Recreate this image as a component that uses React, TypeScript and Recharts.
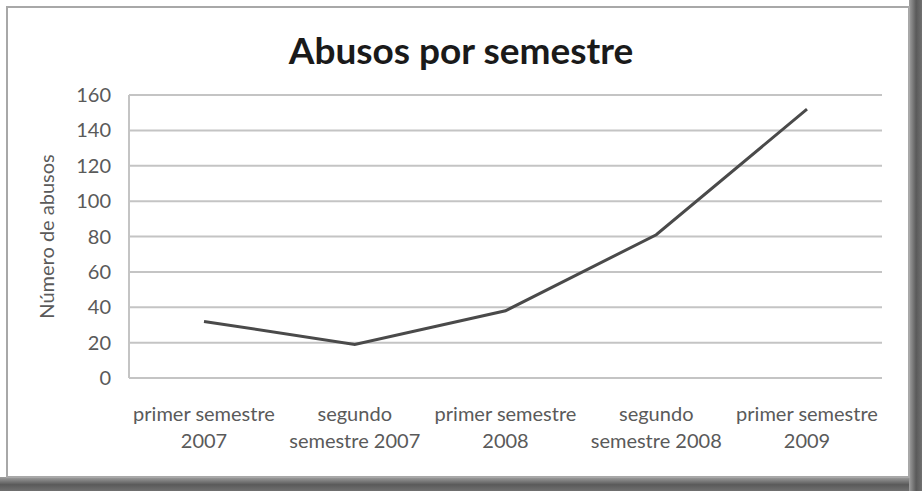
import { CartesianGrid, Line, LineChart, XAxis, YAxis } from 'recharts';

const categories = [
  'primer semestre 2007',
  'segundo semestre 2007',
  'primer semestre 2008',
  'segundo semestre 2008',
  'primer semestre 2009',
];
const categoryLines = [
  ['primer semestre', '2007'],
  ['segundo', 'semestre 2007'],
  ['primer semestre', '2008'],
  ['segundo', 'semestre 2008'],
  ['primer semestre', '2009'],
];
const abusos = [32, 19, 38, 81, 152];
const yTicks = [0, 20, 40, 60, 80, 100, 120, 140, 160];

const data = categories.map((c, i) => ({ name: c, abusos: abusos[i] }));

const TICK_COLOR = '#5a5a5a';
const GRID_COLOR = '#c4c4c4';
const FONT = 'Lato, "Open Sans", sans-serif';

function XTick(props: any) {
  const { x, y, payload } = props;
  const lines = categoryLines[payload.index] ?? [payload.value];
  return (
    <text x={x} y={y} textAnchor="middle" fill={TICK_COLOR} fontSize={20} fontFamily={FONT}>
      {lines.map((l: string, i: number) => (
        <tspan key={i} x={x} dy={i === 0 ? 35 : 27}>
          {l}
        </tspan>
      ))}
    </text>
  );
}

export default function App() {
  return (
    <div style={{ position: 'absolute', left: 0, top: 0, width: 922, height: 491, background: '#fff', overflow: 'hidden' }}>
      {/* drop shadow band */}
      <div style={{ position: 'absolute', left: 0, top: 477, width: 922, height: 14, background: 'linear-gradient(#a0a0a0, #5a5a5a 55%, #707070)' }} />
      <div style={{ position: 'absolute', left: 909, top: 0, width: 13, height: 491, background: 'linear-gradient(90deg, #a0a0a0, #5a5a5a 55%, #707070)' }} />
      {/* chart frame */}
      <div style={{ position: 'absolute', left: 6, top: 6, width: 900, height: 468, border: '2px solid #a8a8a8', background: '#fff' }} />
      <div
        style={{
          position: 'absolute',
          left: 0,
          width: 922,
          top: 28,
          textAlign: 'center',
          fontFamily: FONT,
          fontWeight: 700,
          fontSize: 37,
          color: '#1a1a1a',
          lineHeight: '44px',
        }}
      >
        Abusos por semestre
      </div>
      <div style={{ position: 'absolute', left: 0, top: 0 }}>
        <LineChart width={922} height={491} data={data} margin={{ top: 95, right: 40, bottom: 23, left: 20 }}>
          <CartesianGrid stroke={GRID_COLOR} strokeWidth={2} vertical={false} />
          <XAxis
            dataKey="name"
            interval={0}
            padding={{ left: 75, right: 75 }}
            axisLine={{ stroke: GRID_COLOR, strokeWidth: 2 }}
            tickLine={false}
            tick={<XTick />}
            height={90}
          />
          <YAxis
            domain={[0, 160]}
            ticks={yTicks}
            width={109}
            axisLine={{ stroke: GRID_COLOR, strokeWidth: 2 }}
            tickLine={false}
            tickMargin={12}
            tick={{ fill: TICK_COLOR, fontSize: 20, fontFamily: FONT }}
            label={{
              value: 'Número de abusos',
              angle: -90,
              position: 'insideLeft',
              offset: 27,
              fill: TICK_COLOR,
              fontSize: 20,
              fontFamily: FONT,
              style: { textAnchor: 'middle' },
            }}
          />
          <Line
            type="linear"
            dataKey="abusos"
            stroke="#4a4a4a"
            strokeWidth={3}
            dot={false}
            activeDot={false}
            isAnimationActive={false}
          />
        </LineChart>
      </div>
    </div>
  );
}
